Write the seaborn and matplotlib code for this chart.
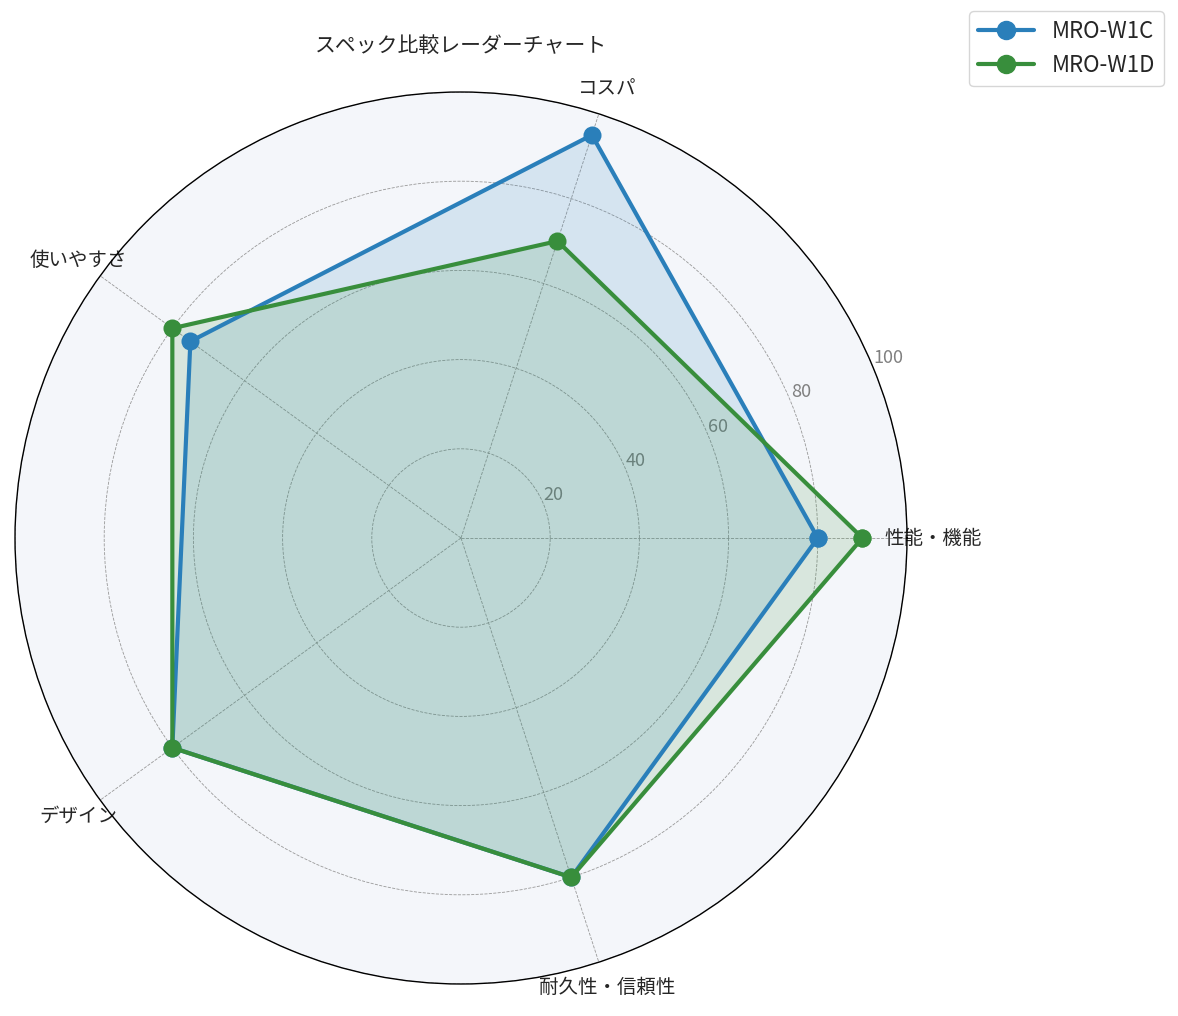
import numpy as np
import pandas as pd
import seaborn as sns
import matplotlib.pyplot as plt

categories = ["性能・機能", "コスパ", "使いやすさ", "デザイン", "耐久性・信頼性"]
models = ["MRO-W1C", "MRO-W1D"]
w1c_scores = [80, 95, 75, 80, 80]
w1d_scores = [90, 70, 80, 80, 80]
r_ticks = [20, 40, 60, 80, 100]

colors = {"MRO-W1C": "#2a7fba", "MRO-W1D": "#388e3c"}

sns.set_theme(style="white")
plt.rcParams['font.family'] = ['Noto Sans CJK JP', 'DejaVu Sans']

# 角度（閉じたポリゴンにするため先頭を末尾に追加）
angles = np.linspace(0, 2 * np.pi, len(categories), endpoint=False)
closed_angles = np.concatenate([angles, angles[:1] + 2 * np.pi])

rows = []
for name, scores in zip(models, [w1c_scores, w1d_scores]):
    vals = list(scores) + [scores[0]]
    for a, v in zip(closed_angles, vals):
        rows.append({"angle": a, "score": v, "model": name})
df = pd.DataFrame(rows)

fig = plt.figure(figsize=(11.78, 10.16), dpi=100)
ax = fig.add_axes([15 / 1178, 32 / 1016, 892 / 1178, 892 / 1016], polar=True)
ax.set_facecolor("#f4f6fa")

sns.lineplot(data=df, x="angle", y="score", hue="model", palette=colors,
             sort=False, estimator=None, marker="o", markersize=13,
             markeredgewidth=0, linewidth=3, ax=ax, legend=False)

for name in models:
    sub = df[df["model"] == name]
    ax.fill(sub["angle"], sub["score"], color=colors[name], alpha=0.15)

ax.set_ylim(0, 100)
ax.set_xticks(angles)
ax.set_xticklabels(categories, fontsize=14)
ax.tick_params(axis="x", pad=6)
ax.set_yticks(r_ticks)
ax.set_yticklabels([str(t) for t in r_ticks], color="#808080", fontsize=13)
ax.set_rlabel_position(22.5)
ax.set_xlabel("")
ax.set_ylabel("")
ax.grid(True, color="#999999", linestyle="--", linewidth=0.6)
ax.spines["polar"].set_color("black")
ax.spines["polar"].set_linewidth(1.0)

ax.set_title("スペック比較レーダーチャート", fontsize=15, pad=29)

handles = [plt.Line2D([], [], color=colors[m], marker="o", markersize=13,
                      linewidth=3) for m in models]
fig.legend(handles, models, loc="upper right",
           bbox_to_anchor=(1175 / 1178, 1.0), fontsize=16,
           handlelength=2.5, frameon=True, edgecolor="#cccccc")

fig.savefig("out.png", dpi=100)
